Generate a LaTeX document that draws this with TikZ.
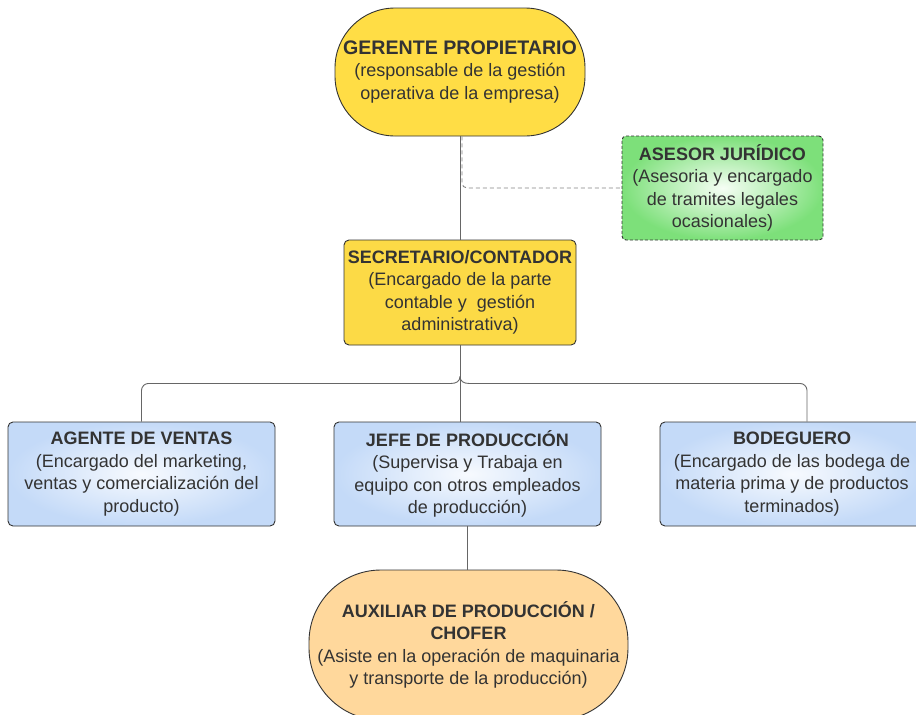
\documentclass[tikz,border=0pt]{standalone}
\usepackage{fontspec}
\setmainfont{Liberation Sans}
\usetikzlibrary{calc}

\definecolor{ink}{HTML}{333333}
\definecolor{wire}{HTML}{666666}
\definecolor{gold}{HTML}{FFDD45}
\definecolor{goldsec}{HTML}{FCDA46}
\definecolor{mint}{HTML}{7DE07A}
\definecolor{mintlight}{HTML}{F6FEF5}
\definecolor{sky}{HTML}{C4DAF8}
\definecolor{skylight}{HTML}{F7FAFE}
\definecolor{peach}{HTML}{FFD89C}

\tikzset{
  box/.style={draw=ink, line width=0.9pt, text=ink, align=center,
    font=\fontsize{18}{22.5}\selectfont, inner sep=0pt},
  pill/.style={box, rounded corners=#1},
  pill/.default=60pt,
  deskbox/.style={box, rounded corners=5pt, minimum width=267pt, minimum height=104pt,
    inner color=skylight, outer color=sky},
  conn/.style={draw=wire, line width=0.9pt},
  dashconn/.style={draw=wire!80, line width=0.9pt, dash pattern=on 4pt off 3pt}
}

\begin{document}
\begin{tikzpicture}[x=1pt, y=-1pt]
  \clip (0,0) rectangle (916,715);
  \fill[white] (0,0) rectangle (916,715);

  % top of the hierarchy
  \node[pill=60pt, fill=gold, minimum width=250pt, minimum height=128pt] (ger) at (460,72)
    {{\fontsize{19.6}{22.5}\selectfont\bfseries GERENTE PROPIETARIO}\\(responsable de la gestión\\operativa de la empresa)};

  % external legal advisor
  \node[box, rounded corners=4pt, draw=ink, dash pattern=on 3pt off 2pt,
        inner color=mintlight, outer color=mint,
        minimum width=201pt, minimum height=104pt] (ase) at (722.5,188)
    {{\bfseries ASESOR JURÍDICO}\\(Asesoria y encargado\\de tramites legales\\ocasionales)};

  % administration
  \node[box, rounded corners=5pt, fill=goldsec, minimum width=232pt, minimum height=105pt] (sec) at (460,292.5)
    {{\bfseries SECRETARIO/CONTADOR}\\(Encargado de la parte\\contable y\ \ gestión\\administrativa)};

  % operating staff
  \node[deskbox] (age) at (141.5,474)
    {{\bfseries AGENTE DE VENTAS}\\(Encargado del marketing,\\ventas y comercialización del\\producto)};
  \node[deskbox] (jefe) at (467.5,474)
    {{\bfseries JEFE DE PRODUCCIÓN}\\(Supervisa y Trabaja en\\equipo con otros empleados\\de producción)};
  \node[deskbox, minimum width=264pt] (bod) at (792,474)
    {{\bfseries BODEGUERO}\\(Encargado de las bodega de\\materia prima y de productos\\terminados)};

  % production assistant
  \node[pill=72pt, fill=peach, minimum width=319pt, minimum height=150pt] (aux) at (468.5,645)
    {{\bfseries AUXILIAR DE PRODUCCIÓN /}\\{\bfseries CHOFER}\\(Asiste en la operación de maquinaria\\y transporte de la producción)};

  % connectors
  \draw[conn] (ger.south) -- (sec.north);
  \draw[dashconn, rounded corners=5pt] ([xshift=2pt]ger.south) |- (ase.west);

  \coordinate (hub) at ($(sec.south)+(0,38)$);
  \coordinate (bodtop) at ($(bod.north)+(15,0)$);
  \draw[conn] (sec.south) -- (sec.south |- jefe.north);
  \draw[conn, rounded corners=7pt] (age.north) |- ($(hub)+(-9,0)$);
  \draw[conn] ($(hub)+(-9,0)$) .. controls ($(hub)+(-4,0)$) and ($(hub)+(0,-2)$) .. ($(hub)+(0,-7)$);
  \draw[conn, rounded corners=7pt] (bodtop) |- ($(hub)+(9,0)$);
  \draw[conn] ($(hub)+(9,0)$) .. controls ($(hub)+(4,0)$) and ($(hub)+(0,-2)$) .. ($(hub)+(0,-7)$);

  \draw[conn] (jefe.south) -- (jefe.south |- aux.north);
\end{tikzpicture}
\end{document}
